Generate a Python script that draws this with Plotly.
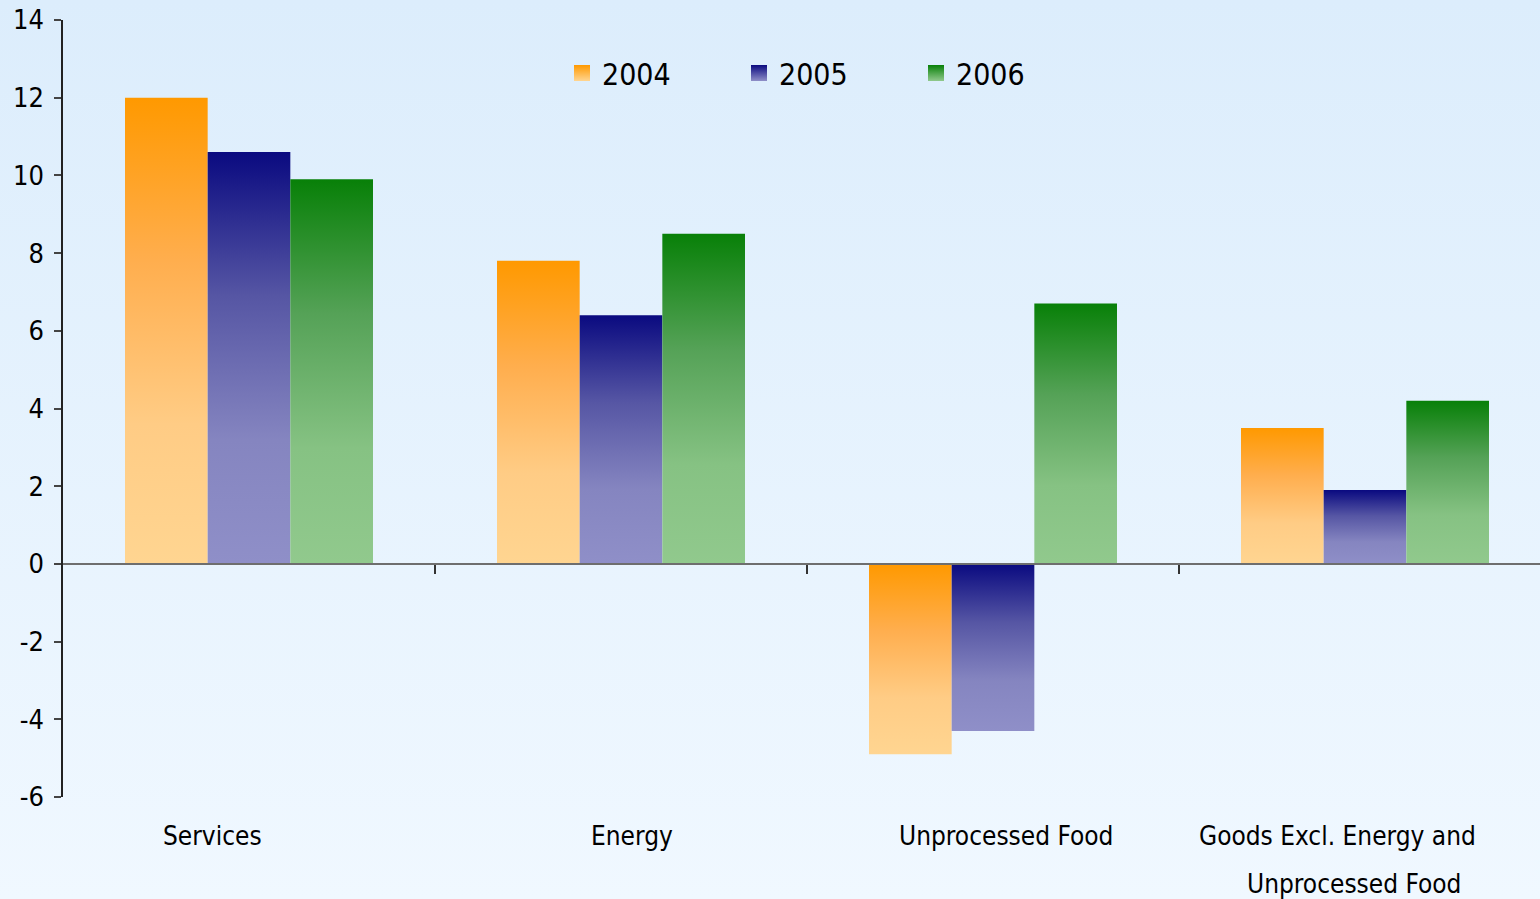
import base64
import plotly.graph_objects as go

# ---- data -------------------------------------------------------------
categories = ["Services", "Energy", "Unprocessed Food", "Goods Excl. Energy and Unprocessed Food"]
years = ["2004", "2005", "2006"]
values_2004 = [12.0, 7.8, -4.9, 3.5]
values_2005 = [10.6, 6.4, -4.3, 1.9]
values_2006 = [9.9, 8.5, 6.7, 4.2]
y_ticks = [-6, -4, -2, 0, 2, 4, 6, 8, 10, 12, 14]

series = [values_2004, values_2005, values_2006]

# ---- styling ----------------------------------------------------------
FONT = "DejaVu Sans Condensed, DejaVu Sans, sans-serif"
# vertical fills: light at the bottom of each bar, saturated at the top
scales = [
    [[0, "#FFD591"], [0.3, "#FFCC85"], [0.65, "#FFAE4E"], [1, "#FF9900"]],
    [[0, "#8F8FC8"], [0.3, "#8585C0"], [0.65, "#5656A4"], [1, "#0A0A80"]],
    [[0, "#91C98D"], [0.3, "#86C283"], [0.65, "#55A257"], [1, "#088008"]],
]
top_colors = ["#FF9900", "#0A0A80", "#088008"]
bottom_colors = ["#FFD591", "#8F8FC8", "#91C98D"]

W, H = 1540, 899
ML, MR, MT, MB = 63, 0, 20, 102
plot_w = W - ML - MR
cat_px = 372                      # width of one category slot
x_max = plot_w / cat_px
gap = 62 / cat_px                 # empty space either side of a group
bar_w = (1 - 2 * gap) / len(years)

fig = go.Figure()

# bars as filled polygons so each can carry its own vertical gradient
for j, vals in enumerate(series):
    for i, v in enumerate(vals):
        x0 = i + gap + j * bar_w
        x1 = x0 + bar_w
        fig.add_trace(go.Scatter(
            x=[x0, x1, x1, x0, x0],
            y=[0, 0, v, v, 0],
            mode="lines",
            line=dict(width=0),
            fill="toself",
            fillgradient=dict(type="vertical", colorscale=scales[j]),
            showlegend=False,
            hovertemplate=f"{categories[i]}<br>{years[j]}: {v}<extra></extra>",
        ))

# legend entries with gradient squares
for j, yr in enumerate(years):
    fig.add_trace(go.Scatter(
        x=[None], y=[None], mode="markers", name=yr,
        marker=dict(symbol="square", size=18, color=top_colors[j],
                    gradient=dict(type="vertical", color=bottom_colors[j]),
                    line=dict(width=0)),
    ))

# background wash, darker blue at the top
svg = (
    '<svg xmlns="http://www.w3.org/2000/svg" width="10" height="100" preserveAspectRatio="none">'
    '<defs><linearGradient id="g" x1="0" y1="0" x2="0" y2="1">'
    '<stop offset="0" stop-color="#DCEDFC"/><stop offset="1" stop-color="#F0F8FF"/>'
    '</linearGradient></defs><rect width="10" height="100" fill="url(#g)"/></svg>'
)
bg_src = "data:image/svg+xml;base64," + base64.b64encode(svg.encode()).decode()
plot_h = H - MT - MB

fig.add_layout_image(dict(
    source=bg_src, xref="paper", yref="paper",
    x=-ML / plot_w, y=1 + MT / plot_h,
    sizex=W / plot_w, sizey=H / plot_h,
    xanchor="left", yanchor="top", sizing="stretch", layer="below",
))

# category labels below the plot
label_font = dict(family=FONT, size=26, color="#000000")
label_x = [0.403, 1.53, 2.535]
for i in range(3):
    fig.add_annotation(x=label_x[i], y=-39 / plot_h, xref="x", yref="paper",
                       text=categories[i], showarrow=False, font=label_font,
                       xanchor="center", yanchor="middle")
goods_lines = ["Goods Excl. Energy and", "Unprocessed Food"]
for k, (lx, ly) in enumerate([(3.425, -39), (3.47, -87)]):
    fig.add_annotation(x=lx, y=ly / plot_h, xref="x", yref="paper",
                       text=goods_lines[k], showarrow=False, font=label_font,
                       xanchor="center", yanchor="middle")

fig.update_layout(
    width=W, height=H,
    margin=dict(l=ML, r=MR, t=MT, b=MB, pad=0),
    paper_bgcolor="rgba(0,0,0,0)",
    plot_bgcolor="rgba(0,0,0,0)",
    font=dict(family=FONT, color="#000000"),
    xaxis=dict(
        range=[0, x_max], showgrid=False, zeroline=False,
        anchor="free", position=6 / 20,
        showline=True, linecolor="#6E6E6E", linewidth=2,
        ticks="outside", tickvals=[1, 2, 3], ticklen=9, tickwidth=1.5,
        tickcolor="#333333", showticklabels=False,
    ),
    yaxis=dict(
        range=[-6, 14], tickvals=y_ticks, ticktext=[str(t) for t in y_ticks],
        showgrid=False, zeroline=False,
        showline=True, linecolor="#222222", linewidth=1.5,
        ticks="outside", ticklen=7, tickwidth=1.5, tickcolor="#444444",
        ticklabelstandoff=5,
        tickfont=dict(family=FONT, size=27, color="#000000"),
    ),
    legend=dict(
        orientation="h", x=(562 - ML) / plot_w, y=(797 - 73) / plot_h,
        xanchor="left", yanchor="middle",
        entrywidth=132, entrywidthmode="pixels",
        font=dict(family=FONT, size=30, color="#000000"),
        bgcolor="rgba(0,0,0,0)", itemsizing="trace",
    ),
    showlegend=True,
)

fig.write_html("out.html")
